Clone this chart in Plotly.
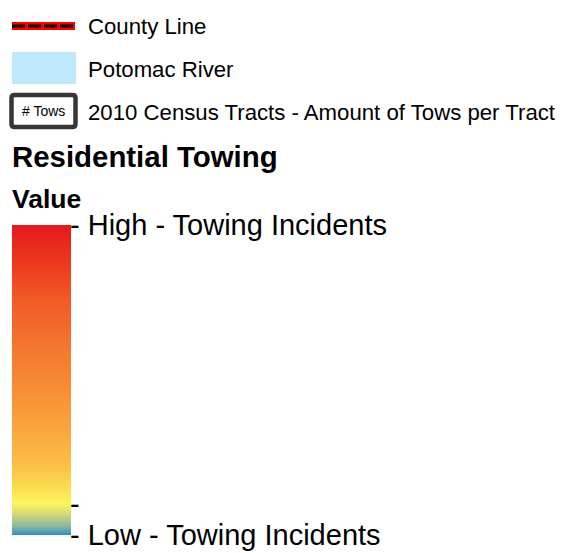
import plotly.graph_objects as go

# ---------------- data ----------------
legend_labels = ["County Line", "Potomac River", "2010 Census Tracts - Amount of Tows per Tract"]
box_text = "# Tows"
title_text = "Residential Towing"
subtitle_text = "Value"

# colour ramp of the stretched renderer (position 0 = bottom/Low, 1 = top/High)
ramp_pos = [0.0, 0.03, 0.065, 0.103, 0.145, 0.24, 0.37, 0.50, 0.63, 0.76, 0.89, 1.0]
ramp_col = ["#2a8dc4", "#87b7a1", "#cfd37a", "#fbf75d", "#fbe054", "#fbbc45",
            "#f9a03b", "#f68933", "#f3732d", "#f15a25", "#ec3520", "#e51a1c"]
tick_vals = [0.0, 0.10, 1.0]
tick_text = ["- Low - Towing Incidents", "-", "- High - Towing Incidents"]

# ---------------- layout constants ----------------
W, H = 564, 553
FONT = "Arial, 'Liberation Sans', sans-serif"
bar_left, bar_right, bar_top, bar_bottom = 12, 71, 225, 535

fig = go.Figure()

# County line swatch: red band with black dashes
fig.add_trace(go.Scatter(x=[12, 75], y=[26, 26], mode="lines",
                         line=dict(color="#ff0000", width=8), hoverinfo="skip", showlegend=False))
fig.add_trace(go.Scatter(x=[12, 75], y=[26, 26], mode="lines",
                         line=dict(color="#000000", width=3, dash="13px,3px"),
                         hoverinfo="skip", showlegend=False))

# gradient bar
fig.add_trace(go.Heatmap(
    x=[0, 1], y=ramp_pos, z=[[p, p] for p in ramp_pos],
    colorscale=[[p, c] for p, c in zip(ramp_pos, ramp_col)],
    zmin=0, zmax=1, zsmooth="best", showscale=False, hoverinfo="skip",
    xaxis="x2", yaxis="y2"))

shapes = [
    # Potomac river swatch
    dict(type="rect", xref="x", yref="y", x0=12, x1=76, y0=52, y1=84,
         fillcolor="#bfe8fd", line=dict(width=0), layer="below"),
    # # Tows box (rounded)
    dict(type="path", xref="x", yref="y",
         path="M 14.5 95 L 72.5 95 Q 75.5 95 75.5 98 L 75.5 124 Q 75.5 127 72.5 127 "
              "L 14.5 127 Q 11.5 127 11.5 124 L 11.5 98 Q 11.5 95 14.5 95 Z",
         fillcolor="#ffffff", line=dict(color="#363636", width=4.5)),
]

annotations = [
    dict(x=86, y=26, text=legend_labels[0]),
    dict(x=86, y=69.5, text=legend_labels[1]),
    dict(x=86, y=112, text=legend_labels[2]),
]
annotations = [dict(a, xref="x", yref="y", xanchor="left", yanchor="middle", showarrow=False,
                    font=dict(family=FONT, size=22.2, color="#000000")) for a in annotations]
annotations += [
    dict(x=43.5, y=111, text=box_text, xref="x", yref="y", xanchor="center", yanchor="middle",
         showarrow=False, font=dict(family=FONT, size=14, color="#000000")),
    dict(x=10, y=156, text="<b>" + title_text + "</b>", xref="x", yref="y", xanchor="left",
         yanchor="middle", showarrow=False, font=dict(family=FONT, size=29.4, color="#000000")),
    dict(x=10, y=199, text="<b>" + subtitle_text + "</b>", xref="x", yref="y", xanchor="left",
         yanchor="middle", showarrow=False, font=dict(family=FONT, size=26.5, color="#000000")),
]

fig.update_layout(
    width=W, height=H, margin=dict(l=0, r=0, t=0, b=0, pad=0, autoexpand=False),
    paper_bgcolor="#ffffff", plot_bgcolor="#ffffff",
    showlegend=False, shapes=shapes, annotations=annotations,
    xaxis=dict(range=[0, W], domain=[0, 1], visible=False, fixedrange=True, automargin=False),
    yaxis=dict(range=[H, 0], domain=[0, 1], visible=False, fixedrange=True, automargin=False),
    xaxis2=dict(range=[0, 1], domain=[bar_left / W, bar_right / W], anchor="y2",
                visible=False, fixedrange=True, automargin=False),
    yaxis2=dict(range=[0, 1], domain=[(H - bar_bottom) / H, (H - bar_top) / H], anchor="x2",
                side="right", showgrid=False, zeroline=False, showline=False, ticks="",
                tickvals=tick_vals, ticktext=tick_text, ticklabelstandoff=-2, automargin=False,
                tickfont=dict(family=FONT, size=29, color="#000000"), fixedrange=True),
)

fig.write_html("out.html", config={"displayModeBar": False},
               post_script="document.body.style.margin='0';document.body.style.overflow='hidden';")
